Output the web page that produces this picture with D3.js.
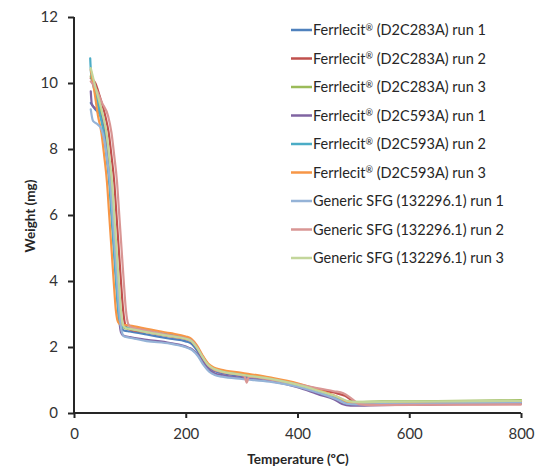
<!DOCTYPE html>
<html>
<head>
<meta charset="utf-8">
<script src="https://cdn.jsdelivr.net/npm/d3@7"></script>
<style>
  html, body { margin: 0; padding: 0; background: #fff; }
  svg { display: block; font-family: Lato, "Open Sans", sans-serif; }
</style>
</head>
<body>
<svg id="chart" width="535" height="466"></svg>
<script>
// Thermogravimetric curves: [temperature °C, weight mg]
const ferD2C283A_run1 = [[30,9.4],[38,9.2],[48,9.0],[54,8.5],[59,7.8],[64,7.0],[68,6.0],[72,5.0],[76,4.0],[80,3.1],[84,2.6],[89,2.5],[100,2.47],[130,2.38],[172,2.25],[200,2.17],[210,2.1],[220,1.9],[230,1.62],[240,1.4],[250,1.28],[262,1.22],[300,1.12],[350,1.02],[390,0.92],[420,0.75],[450,0.55],[475,0.4],[490,0.28],[505,0.27],[550,0.28],[650,0.3],[800,0.32]];
const ferD2C283A_run2 = [[30,10.15],[38,10.0],[46,9.6],[56,9.0],[62,8.5],[67,7.8],[72,7.0],[76,6.0],[80,5.0],[84,4.0],[88,3.1],[92,2.65],[97,2.55],[130,2.45],[172,2.32],[200,2.24],[210,2.17],[220,1.97],[230,1.68],[240,1.45],[250,1.32],[262,1.26],[300,1.15],[350,1.03],[400,0.87],[440,0.72],[465,0.62],[485,0.52],[500,0.35],[512,0.26],[550,0.25],[650,0.26],[800,0.27]];
const ferD2C283A_run3 = [[30,10.2],[38,9.8],[49,9.0],[55,8.5],[60,7.8],[65,7.0],[69,6.0],[73,5.0],[77,4.0],[81,3.1],[85,2.65],[90,2.58],[100,2.55],[130,2.47],[172,2.35],[200,2.26],[210,2.2],[220,2.0],[230,1.72],[240,1.47],[250,1.35],[262,1.28],[300,1.17],[350,1.05],[400,0.86],[440,0.65],[470,0.48],[490,0.35],[505,0.34],[550,0.35],[650,0.36],[800,0.39]];
const ferD2C593A_run1 = [[30,9.75],[32,9.35],[40,9.2],[48,9.0],[54,8.5],[59,7.8],[64,7.0],[68,6.0],[72,5.0],[76,4.0],[80,3.0],[84,2.45],[88,2.35],[100,2.3],[130,2.22],[172,2.12],[205,1.98],[212,1.92],[222,1.75],[232,1.5],[242,1.3],[252,1.2],[265,1.15],[300,1.06],[350,0.97],[400,0.78],[440,0.55],[465,0.42],[480,0.27],[495,0.22],[550,0.24],[650,0.27],[800,0.3]];
const ferD2C593A_run2 = [[29,10.75],[30.5,10.3],[38,9.7],[47,9.0],[53,8.5],[58,7.8],[63,7.0],[67,6.0],[71,5.0],[75,4.0],[79,3.1],[81,2.75],[86,2.62],[100,2.58],[130,2.5],[172,2.37],[200,2.27],[210,2.2],[220,2.0],[230,1.72],[240,1.47],[250,1.35],[262,1.28],[300,1.16],[350,1.04],[400,0.85],[440,0.64],[470,0.46],[490,0.3],[505,0.29],[550,0.3],[650,0.32],[800,0.34]];
const ferD2C593A_run3 = [[30,10.4],[36,9.8],[43,9.0],[49,8.5],[54,7.8],[59,7.0],[63,6.0],[67,5.0],[71,4.0],[75,3.1],[79,2.75],[84,2.68],[100,2.65],[130,2.55],[172,2.42],[200,2.32],[210,2.25],[220,2.05],[230,1.75],[240,1.5],[250,1.38],[262,1.32],[300,1.22],[350,1.08],[400,0.9],[440,0.68],[470,0.5],[490,0.33],[505,0.3],[550,0.31],[650,0.33],[800,0.36]];
const sfg132296_run1 = [[30,9.2],[34,8.85],[42,8.75],[49,8.6],[55,8.2],[60,7.6],[65,6.9],[69,6.0],[73,5.0],[77,4.0],[81,3.1],[85,2.5],[90,2.32],[100,2.28],[130,2.18],[172,2.1],[205,1.96],[212,1.9],[222,1.72],[232,1.45],[242,1.25],[252,1.15],[265,1.1],[300,1.03],[350,0.95],[400,0.8],[440,0.6],[470,0.42],[488,0.28],[505,0.26],[550,0.27],[650,0.29],[800,0.31]];
const sfg132296_run2 = [[30,10.05],[40,9.8],[50,9.4],[61,9.0],[67,8.5],[72,7.8],[77,7.0],[81,6.0],[85,5.0],[89,4.0],[93,3.1],[97,2.7],[102,2.6],[130,2.5],[172,2.35],[200,2.26],[210,2.2],[220,2.0],[230,1.7],[240,1.45],[250,1.32],[262,1.25],[305,1.12],[309,0.92],[313,1.1],[350,1.02],[400,0.88],[440,0.74],[465,0.66],[482,0.6],[498,0.42],[510,0.27],[530,0.24],[650,0.25],[800,0.26]];
const sfg132296_run3 = [[30,10.45],[38,9.9],[52,9.0],[58,8.5],[63,7.8],[68,7.0],[72,6.0],[76,5.0],[80,4.0],[84,3.1],[88,2.65],[93,2.57],[100,2.55],[130,2.45],[172,2.33],[200,2.25],[210,2.18],[220,1.98],[230,1.7],[240,1.46],[250,1.34],[262,1.27],[300,1.16],[350,1.04],[400,0.86],[440,0.66],[470,0.5],[492,0.35],[508,0.33],[550,0.34],[650,0.35],[800,0.37]];

const seriesNames = [
  "Ferrlecit® (D2C283A) run 1",
  "Ferrlecit® (D2C283A) run 2",
  "Ferrlecit® (D2C283A) run 3",
  "Ferrlecit® (D2C593A) run 1",
  "Ferrlecit® (D2C593A) run 2",
  "Ferrlecit® (D2C593A) run 3",
  "Generic SFG (132296.1) run 1",
  "Generic SFG (132296.1) run 2",
  "Generic SFG (132296.1) run 3"
];
const seriesData = [
  ferD2C283A_run1, ferD2C283A_run2, ferD2C283A_run3,
  ferD2C593A_run1, ferD2C593A_run2, ferD2C593A_run3,
  sfg132296_run1, sfg132296_run2, sfg132296_run3
];
const seriesColors = ["#4F81BD", "#C0504D", "#9BBB59", "#8064A2", "#4BACC6", "#F79646", "#95B3D7", "#D99694", "#C3D69B"];

const xTicks = [0, 200, 400, 600, 800];
const yTicks = [0, 2, 4, 6, 8, 10, 12];
const xTitle = "Temperature (ºC)";
const yTitle = "Weight (mg)";

const svg = d3.select("#chart");
const plot = { left: 74, right: 521, top: 17, bottom: 413 };

const x = d3.scaleLinear().domain([0, 800]).range([plot.left, plot.right]);
const y = d3.scaleLinear().domain([0, 12]).range([plot.bottom, plot.top]);

// Curves
const line = d3.line()
  .x(d => x(d[0]))
  .y(d => y(d[1]))
  .curve(d3.curveMonotoneX);

svg.append("g")
  .selectAll("path")
  .data(seriesData)
  .join("path")
  .attr("d", line)
  .attr("fill", "none")
  .attr("stroke", (d, i) => seriesColors[i])
  .attr("stroke-width", 2.2)
  .attr("stroke-linejoin", "round")
  .attr("stroke-linecap", "round");

// Axes
const yAxis = svg.append("g")
  .attr("transform", `translate(${plot.left},0)`)
  .call(d3.axisLeft(y).tickValues(yTicks).tickFormat(d3.format("d")).tickSize(6).tickPadding(10));
const xAxis = svg.append("g")
  .attr("transform", `translate(0,${plot.bottom})`)
  .call(d3.axisBottom(x).tickValues(xTicks).tickFormat(d3.format("d")).tickSize(5).tickPadding(10));

[xAxis, yAxis].forEach(g => {
  g.select(".domain").attr("stroke", "#262626").attr("stroke-width", 2);
  g.selectAll(".tick line").attr("stroke", "#262626").attr("stroke-width", 2);
  g.selectAll(".tick text")
    .attr("fill", "#333")
    .style("font-family", "Lato, sans-serif")
    .style("font-size", "15px");
});
xAxis.select(".domain").attr("d", `M${plot.left},0H${plot.right}`);
yAxis.select(".domain").attr("d", `M0,${plot.bottom}V${plot.top}`);

// Axis titles
svg.append("text")
  .attr("x", 298).attr("y", 464)
  .attr("text-anchor", "middle")
  .attr("font-weight", "bold")
  .attr("font-size", 13.5)
  .attr("fill", "#262626")
  .text(xTitle);

svg.append("text")
  .attr("transform", "translate(35,216) rotate(-90)")
  .attr("text-anchor", "middle")
  .attr("font-weight", "bold")
  .attr("font-size", 13.5)
  .attr("fill", "#262626")
  .text(yTitle);

// Legend; the ® mark is set as a small raised glyph
const legend = svg.append("g").attr("transform", "translate(291,30)");
const rows = legend.selectAll("g")
  .data(seriesNames)
  .join("g")
  .attr("transform", (d, i) => `translate(0,${i * 28.5})`);
rows.append("line")
  .attr("x1", 0).attr("x2", 21)
  .attr("stroke", (d, i) => seriesColors[i])
  .attr("stroke-width", 2.5);
rows.append("text")
  .attr("x", 22)
  .attr("y", 5)
  .attr("font-size", 14.5)
  .attr("fill", "#262626")
  .each(function (d) {
    const t = d3.select(this);
    const parts = d.split(/(®)/).filter(s => s.length);
    let raised = false;
    parts.forEach(part => {
      if (part === "®") {
        t.append("tspan").attr("font-size", 9).attr("y", 0.5).text(part);
        raised = true;
      } else {
        const sp = t.append("tspan").text(part);
        if (raised) sp.attr("y", 5);
      }
    });
  });
</script>
</body>
</html>
